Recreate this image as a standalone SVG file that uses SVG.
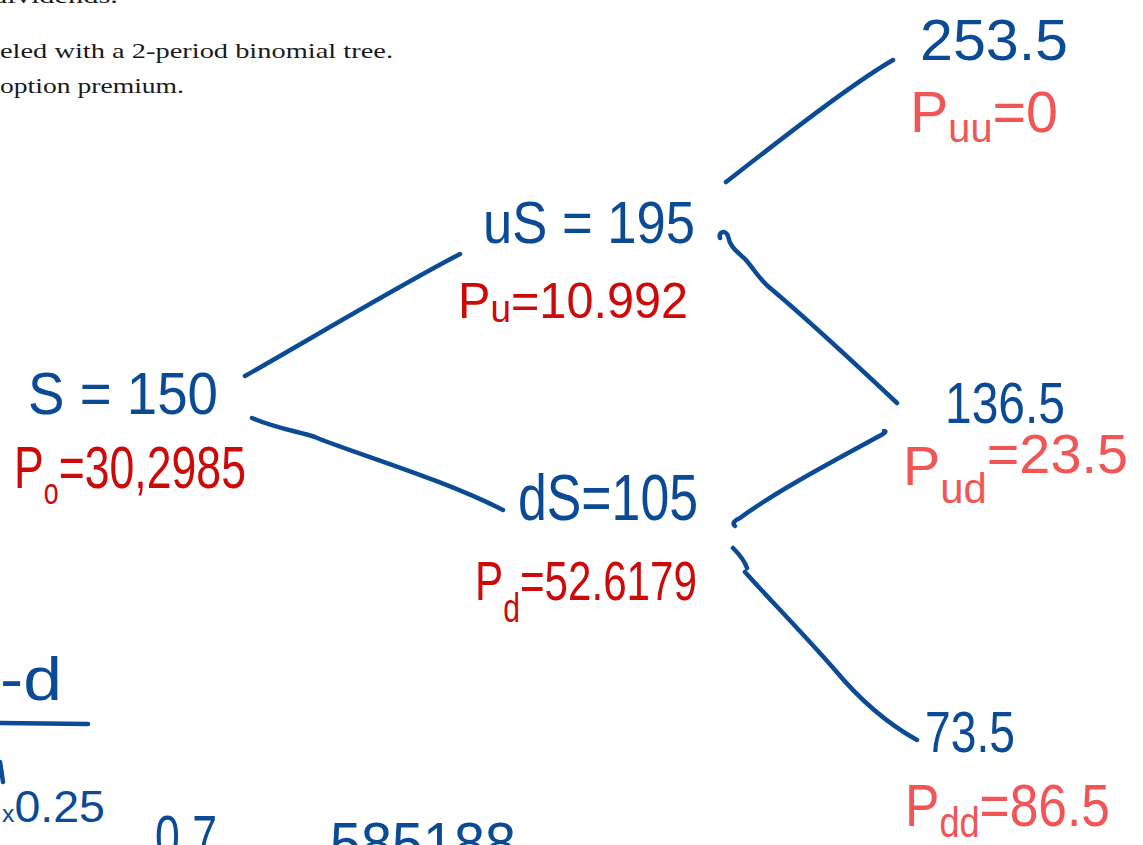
<svg xmlns="http://www.w3.org/2000/svg" width="1143" height="845" viewBox="0 0 1143 845">
<style>
.hdr{font-family:"Liberation Serif","DejaVu Serif",serif;font-size:22px;fill:#1a1a1a}
.hw{font-family:"Liberation Sans","DejaVu Sans",sans-serif}
.blue{fill:#0b4a94}
.red{fill:#cc0a0a}
.coral{fill:#f25555}
.edge{fill:none;stroke:#0b4a94;stroke-width:4.5;stroke-linecap:round;stroke-linejoin:round}
</style>
<rect width="1143" height="845" fill="#ffffff"/>
<g id="header">
<text class="hdr" x="-8" y="3" textLength="126" lengthAdjust="spacingAndGlyphs">dividends.</text>
<text class="hdr" x="0" y="58" textLength="393" lengthAdjust="spacingAndGlyphs">eled with a 2-period binomial tree.</text>
<text class="hdr" x="0" y="93" textLength="184" lengthAdjust="spacingAndGlyphs">option premium.</text>
</g>
<g id="connectors">
<path class="edge" d="M245,376 C300,345 400,285 460,254"/>
<path class="edge" d="M252,418 C275,428 300,432 315,437 C350,452 440,478 503,510"/>
<path class="edge" d="M726,182 C780,140 850,85 893,60"/>
<path class="edge" d="M720,238 C718,231 726,230 728,236 C730,248 738,252 745,259 C755,270 758,278 770,288 C800,313 830,340 897,403"/>
<path class="edge" d="M735,526 C732,523 734,521 740,518 C775,492 830,463 883,434 C886,432 886,431 884,431"/>
<path class="edge" d="M733,548 C740,555 745,562 747,568 M745,572 C770,600 800,630 835,670 C860,700 890,725 917,740"/>
</g>
<g id="node-S">
<text class="hw blue" x="28" y="414" font-size="60" textLength="190" lengthAdjust="spacingAndGlyphs">S = 150</text>
<text class="hw red" x="14" y="488" font-size="60" textLength="232" lengthAdjust="spacingAndGlyphs">P<tspan font-size="36" dy="16">o</tspan><tspan dy="-16">=30,2985</tspan></text>
</g>
<g id="node-uS">
<text class="hw blue" x="483" y="243" font-size="60" textLength="212" lengthAdjust="spacingAndGlyphs">uS = 195</text>
<text class="hw red" x="458" y="318" font-size="50" textLength="230" lengthAdjust="spacingAndGlyphs">P<tspan font-size="38" dy="4">u</tspan><tspan dy="-4">=10.992</tspan></text>
</g>
<g id="node-dS">
<text class="hw blue" x="518" y="520" font-size="64" textLength="180" lengthAdjust="spacingAndGlyphs">dS=105</text>
<text class="hw red" x="475" y="600" font-size="56" textLength="222" lengthAdjust="spacingAndGlyphs">P<tspan font-size="40" dy="22">d</tspan><tspan dy="-22">=52.6179</tspan></text>
</g>
<g id="node-uu">
<text class="hw blue" x="920" y="60" font-size="58" textLength="148" lengthAdjust="spacingAndGlyphs">253.5</text>
<text class="hw coral" x="910" y="132" font-size="58" textLength="148" lengthAdjust="spacingAndGlyphs">P<tspan font-size="40" dy="10">uu</tspan><tspan dy="-10">=0</tspan></text>
</g>
<g id="node-ud">
<text class="hw blue" x="945" y="423" font-size="58" textLength="120" lengthAdjust="spacingAndGlyphs">136.5</text>
<text class="hw coral" x="903" y="485" font-size="56" textLength="225" lengthAdjust="spacingAndGlyphs">P<tspan font-size="42" dy="18">ud</tspan><tspan dy="-30">=23.5</tspan></text>
</g>
<g id="node-dd">
<text class="hw blue" x="925" y="752" font-size="58" textLength="90" lengthAdjust="spacingAndGlyphs">73.5</text>
<text class="hw coral" x="905" y="826" font-size="60" textLength="205" lengthAdjust="spacingAndGlyphs">P<tspan font-size="42" dy="11">dd</tspan><tspan dy="-11">=86.5</tspan></text>
</g>
<g id="notes">
<text class="hw blue" x="0" y="700" font-size="62" textLength="62" lengthAdjust="spacingAndGlyphs">-d</text>
<path class="edge" d="M0,723 L88,724"/>
<path class="edge" d="M0,762 L3,782"/>
<text class="hw blue" x="2" y="822" font-size="45" textLength="103" lengthAdjust="spacingAndGlyphs"><tspan font-size="24">x</tspan>0.25</text>
<text class="hw blue" x="155" y="857" font-size="60" textLength="62" lengthAdjust="spacingAndGlyphs">0 7</text>
<text class="hw blue" x="330" y="864" font-size="60" textLength="186" lengthAdjust="spacingAndGlyphs">585188</text>
</g>
</svg>
